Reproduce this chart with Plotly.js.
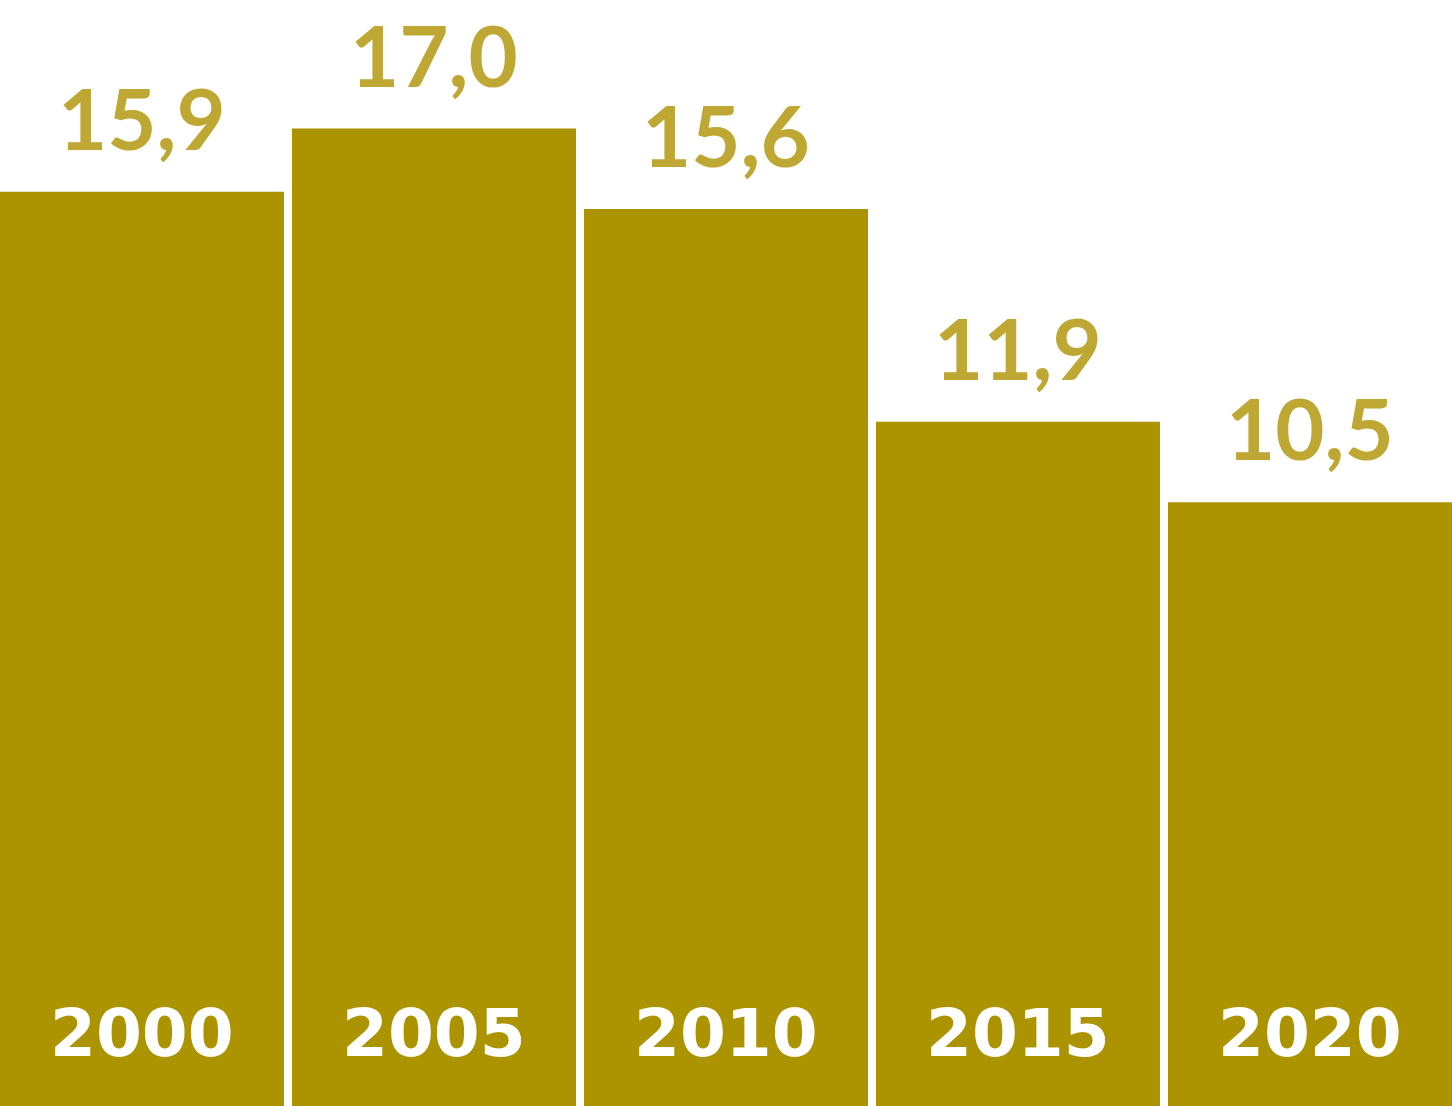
<!DOCTYPE html>
<html>
<head>
<meta charset="utf-8">
<script src="https://cdn.plot.ly/plotly-3.0.1.min.js"></script>
<style>html,body{margin:0;padding:0;background:#fff;}#chart{width:1452px;height:1106px;}</style>
</head>
<body>
<div id="chart"></div>
<script>
const years = ["2000", "2005", "2010", "2015", "2020"];
const values = [15.9, 17.0, 15.6, 11.9, 10.5];
const valueLabels = ["15,9", "17,0", "15,6", "11,9", "10,5"];

const barColor = "#AC9300";
const labelColor = "#BFA733";

const annotations = [];
years.forEach((yr, i) => {
  annotations.push({
    x: i, y: values[i], xref: "x", yref: "y",
    text: valueLabels[i], showarrow: false,
    yanchor: "bottom", xanchor: "center", yshift: 23, borderpad: 0,
    font: {family: "Lato", size: 85, color: labelColor, weight: "bold"}
  });
  annotations.push({
    x: i, y: 0, xref: "x", yref: "y",
    text: yr, showarrow: false,
    yanchor: "bottom", xanchor: "center", yshift: 33, borderpad: 0,
    font: {family: "DejaVu Sans", size: 66, color: "#ffffff", weight: "bold"}
  });
});

const gapFrac = 8 / 292;
const hiddenAxis = {showgrid: false, zeroline: false, showline: false, showticklabels: false, ticks: "", fixedrange: true};
Plotly.newPlot("chart", [{
  type: "bar",
  x: years,
  y: values,
  marker: {color: barColor},
  hoverinfo: "none"
}], {
  width: 1452, height: 1106,
  margin: {l: 0, r: 0, t: 0, b: 0, pad: 0},
  paper_bgcolor: "#ffffff", plot_bgcolor: "#ffffff",
  bargap: gapFrac,
  showlegend: false,
  xaxis: Object.assign({type: "category", range: [-0.5 + gapFrac / 2, 4.5 - gapFrac / 2]}, hiddenAxis),
  yaxis: Object.assign({range: [0, 1106 / 57.5]}, hiddenAxis),
  annotations: annotations
}, {displayModeBar: false});
</script>
</body>
</html>
